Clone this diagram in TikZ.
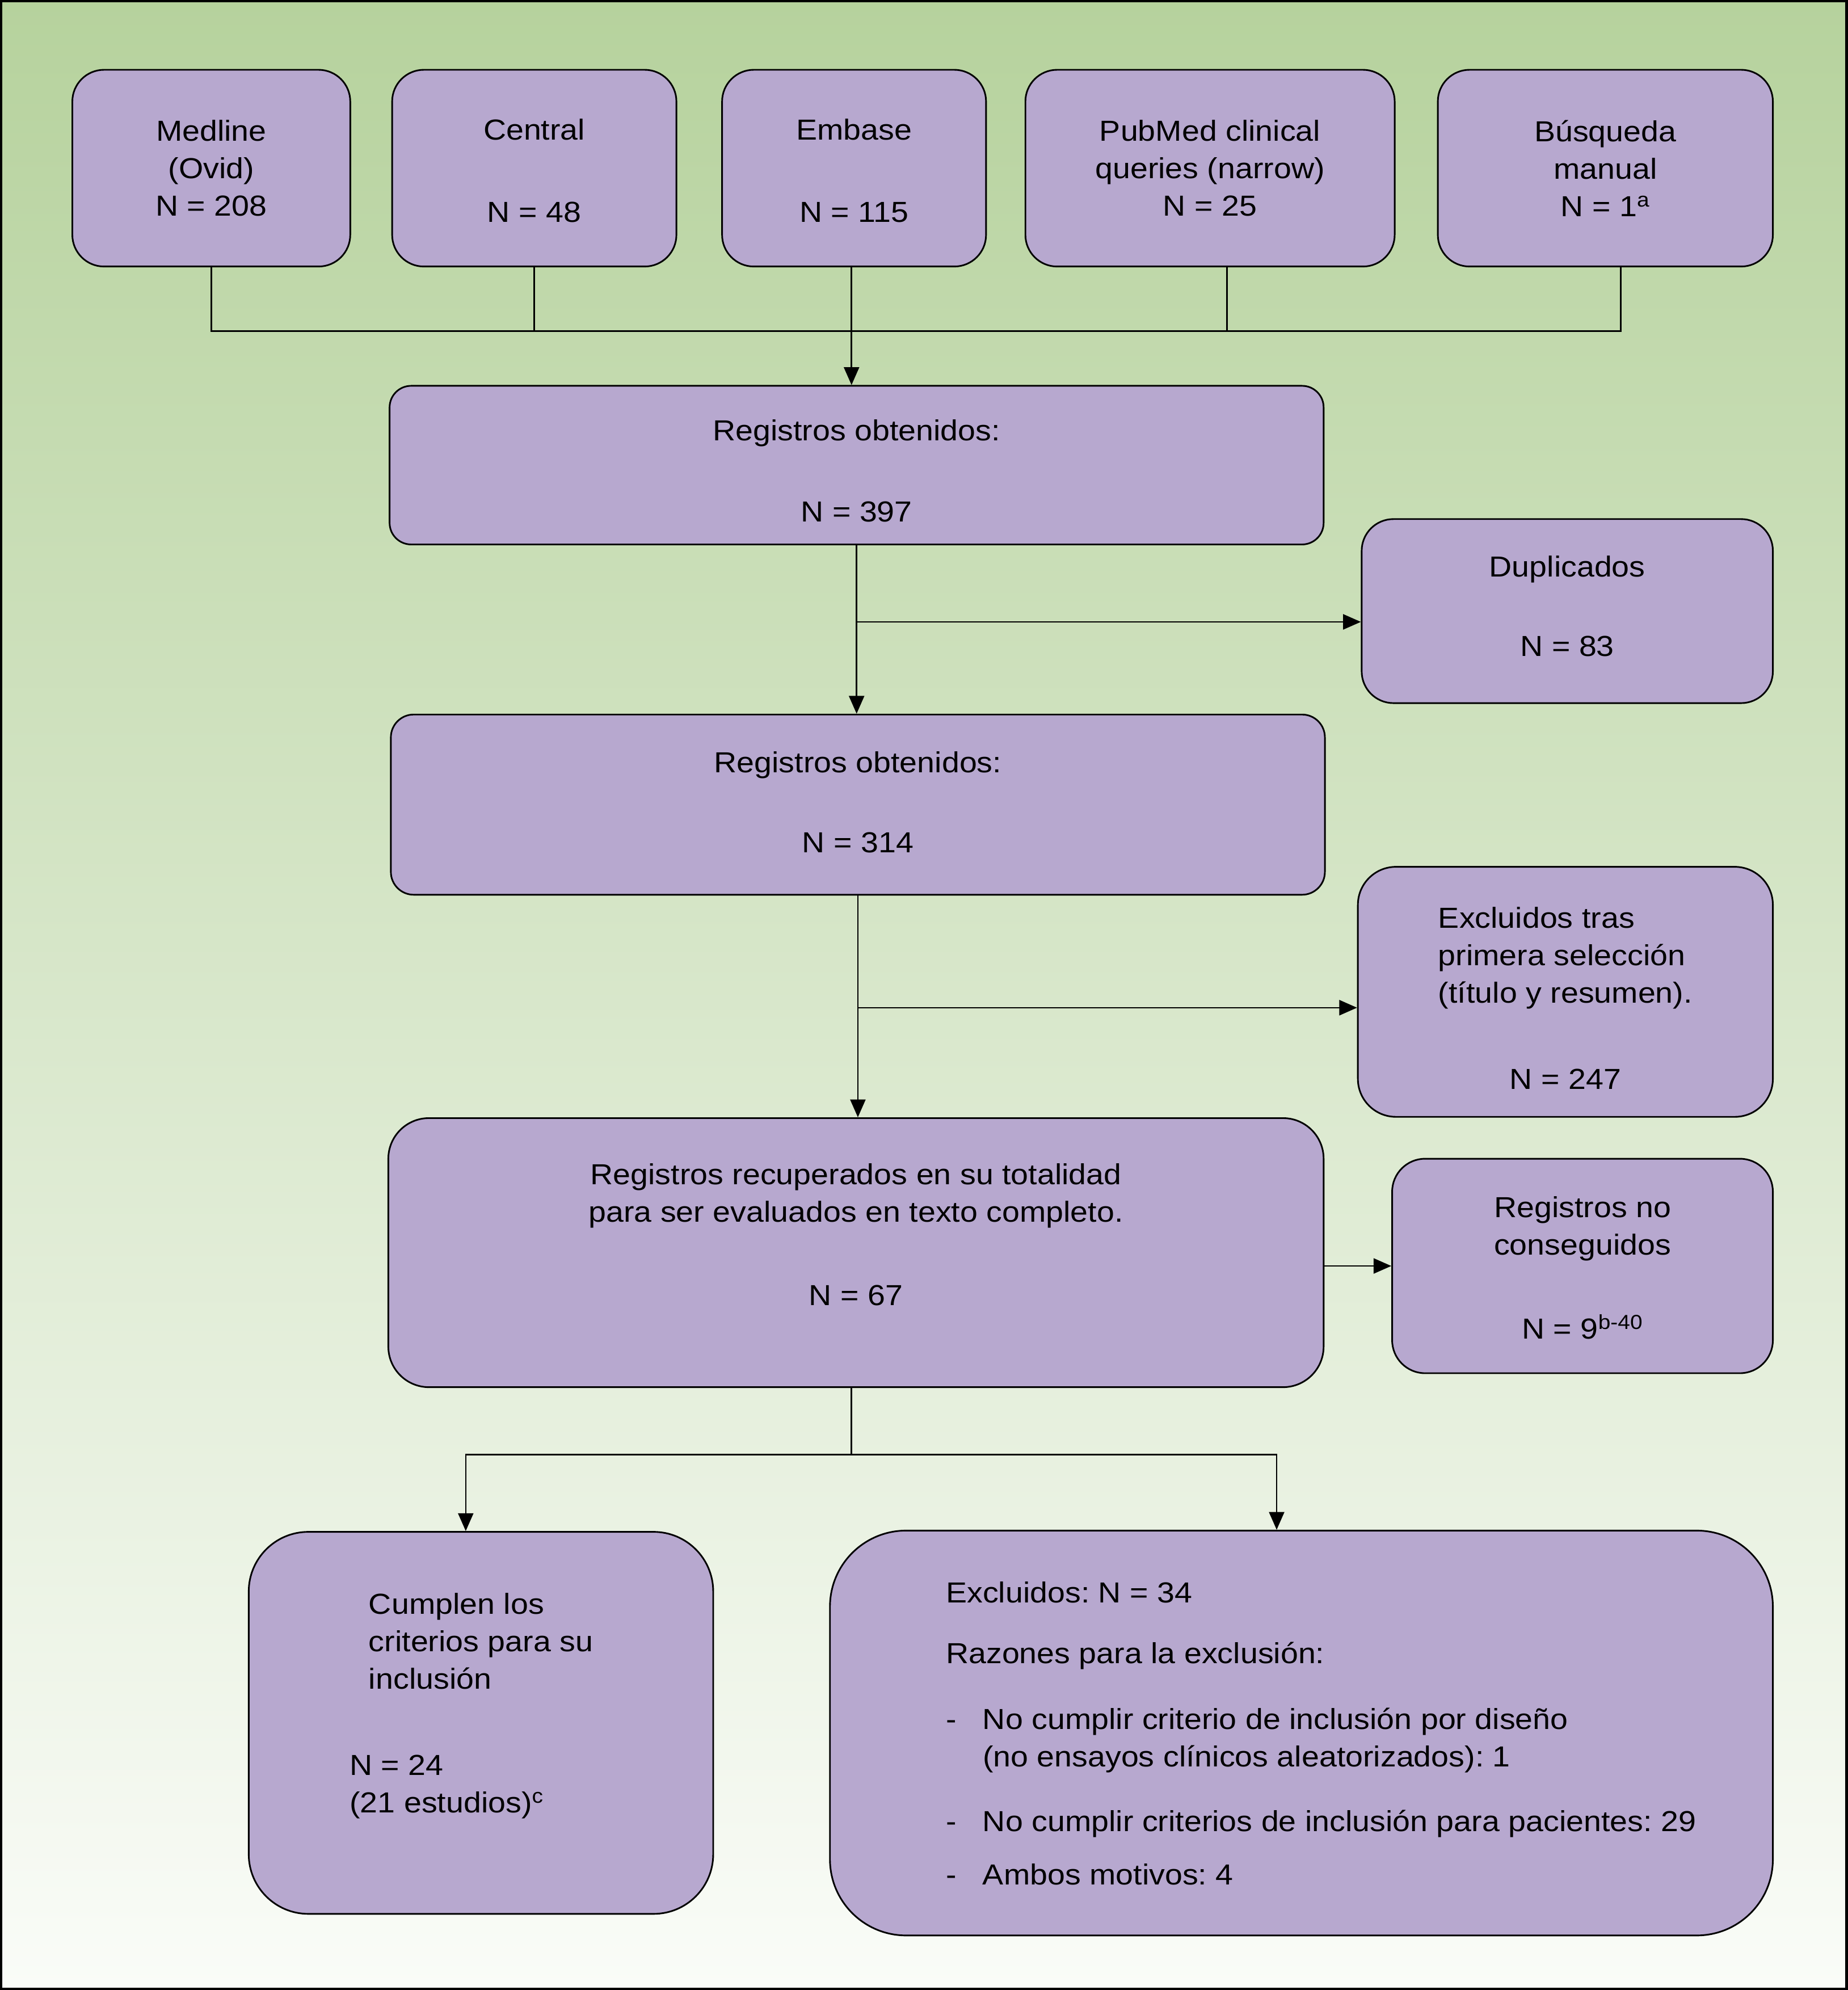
\documentclass[tikz,border=0pt]{standalone}
\usepackage{fontspec}
\setmainfont{Liberation Sans}[FakeStretch=1.09]
\usepackage{tikz}
\usetikzlibrary{arrows.meta}

\definecolor{boxfill}{RGB}{183,168,207}
\definecolor{bgtop}{RGB}{182,210,157}
\definecolor{bgbottom}{RGB}{250,252,248}
\newcommand{\guion}{\makebox[29pt][l]{-}}

\begin{document}
\begin{tikzpicture}[x=1pt, y=-1pt,
        box/.style={draw, line width=1.3pt, fill=boxfill, align=center, inner sep=0pt,
            font=\fontsize{22.8}{29.5}\selectfont\frenchspacing},
        link/.style={line width=1.2pt},
        arrowline/.style={line width=1.2pt, -{Triangle[length=14pt,width=12pt]}}]

    % Background and frame
    \useasboundingbox (0,0) rectangle (1456,1568);
    \shade[top color=bgtop, bottom color=bgbottom] (1,1) rectangle (1455,1567);
    \draw[line width=2pt] (1,1) rectangle (1455,1567);

    % Draw source boxes
    \node[box, rounded corners=25pt, minimum width=219pt, minimum height=155pt] (medline) at (166.5,132.5) {Medline\\(Ovid)\\N = 208};
    \node[box, rounded corners=25pt, minimum width=224pt, minimum height=155pt] (central) at (421,132.5) {\rule{0pt}{20.3pt}Central\\[35.5pt]N = 48};
    \node[box, rounded corners=25pt, minimum width=208pt, minimum height=155pt] (embase) at (673,132.5) {\rule{0pt}{20.3pt}Embase\\[35.5pt]N = 115};
    \node[box, rounded corners=25pt, minimum width=291pt, minimum height=155pt] (pubmed) at (953.5,132.5) {PubMed clinical\\queries (narrow)\\N = 25};
    \node[box, rounded corners=25pt, minimum width=264pt, minimum height=155pt] (busqueda) at (1265,132.5) {Búsqueda\\manual\\N = 1\textsuperscript{a}};

    % Draw record boxes
    \node[box, rounded corners=17pt, minimum width=736pt, minimum height=125pt] (obtenidos1) at (675,366.5) {\rule{0pt}{25.3pt}Registros obtenidos:\\[34.5pt]N = 397};
    \node[box, rounded corners=25pt, minimum width=324pt, minimum height=145pt] (duplicados) at (1235,481.5) {Duplicados\\[33.5pt]N = 83\rule[-8pt]{0pt}{8pt}};
    \node[box, rounded corners=18pt, minimum width=736pt, minimum height=142pt] (obtenidos2) at (676,634) {Registros obtenidos:\\[33.5pt]N = 314\rule[-4pt]{0pt}{4pt}};
    \node[box, rounded corners=30pt, minimum width=327pt, minimum height=197pt] (excluidos1) at (1233.5,781.5)
        {\begin{tabular}[b]{@{}l@{}}\rule{0pt}{26.7pt}Excluidos tras\\primera selección\\(título y resumen).\end{tabular}\\[38.5pt]N = 247};
    \node[box, rounded corners=32pt, minimum width=737pt, minimum height=212pt] (recuperados) at (674.5,987)
        {\begin{tabular}{@{}c@{}}Registros recuperados en su totalidad\\para ser evaluados en texto completo.\\[36.5pt]N = 67\\[23.8pt]\end{tabular}};
    \node[box, rounded corners=26pt, minimum width=300pt, minimum height=169pt] (noconseguidos) at (1247,997.5) {\rule{0pt}{19.3pt}Registros no\\conseguidos\\[36.5pt]N = 9\textsuperscript{b-40}};

    % Draw final boxes
    \node[box, rounded corners=47pt, minimum width=366pt, minimum height=301pt] (cumplen) at (379,1357.5)
        {\begin{tabular}{@{}l@{\hspace{15pt}}}\hspace*{15pt}Cumplen los\\\hspace*{15pt}criterios para su\\\hspace*{15pt}inclusión\\[38.5pt]N = 24\\(21 estudios)\textsuperscript{c}\\[26.8pt]\end{tabular}};
    \node[box, rounded corners=60pt, minimum width=743pt, minimum height=319pt] (excluidos2) at (1025.5,1365.5)
        {\begin{tabular}{@{\hspace{31pt}}l@{}}
        \rule{0pt}{25.7pt}Excluidos: N = 34\\[18.5pt]
        Razones para la exclusión:\\[22.5pt]
        \guion No cumplir criterio de inclusión por diseño\\
        \hspace*{29pt}(no ensayos clínicos aleatorizados): 1\\[21.5pt]
        \guion No cumplir criterios de inclusión para pacientes: 29\\[12.5pt]
        \guion Ambos motivos: 4
        \end{tabular}};

    % Connect source boxes
    \coordinate (hub) at (671,261);
    \draw[link] (medline.south) |- (hub);
    \draw[link] ([xshift=12pt]busqueda.south) |- (hub);
    \draw[link] (central.south) -- (central.south |- hub);
    \draw[link] ([xshift=13.5pt]pubmed.south) -- ([xshift=13.5pt]pubmed.south |- hub);
    \draw[link] (embase.south -| hub) -- (hub);
    \draw[arrowline] (hub) -- (hub |- obtenidos1.north);

    % Records flow
    \draw[arrowline] (obtenidos1.south) -- (obtenidos1.south |- obtenidos2.north);
    \coordinate (split1) at (675,490);
    \draw[arrowline] (split1) -- (split1 -| duplicados.west);
    \draw[arrowline] (obtenidos2.south) -- (obtenidos2.south |- recuperados.north);
    \coordinate (split2) at (676,794);
    \draw[arrowline] (split2) -- (split2 -| excluidos1.west);
    \draw[arrowline] (noconseguidos.west -| recuperados.east) -- (noconseguidos.west);

    % Split into included and excluded
    \coordinate (hub2) at (671,1146);
    \draw[link] (recuperados.south -| hub2) -- (hub2);
    \draw[arrowline] (hub2) -| ([xshift=-12pt]cumplen.north);
    \draw[arrowline] (hub2) -| ([xshift=-19.5pt]excluidos2.north);
\end{tikzpicture}
\end{document}
